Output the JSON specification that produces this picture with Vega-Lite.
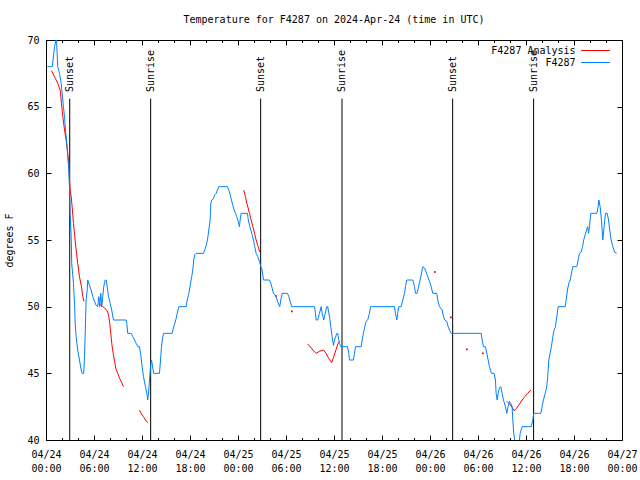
{
  "$schema": "https://vega.github.io/schema/vega-lite/v6.json",
  "width": 576,
  "height": 400,
  "autosize": {"type": "none"},
  "padding": {"left": 46, "top": 40, "right": 18, "bottom": 40},
  "background": "white",
  "title": {"text": "Temperature for F4287 on 2024-Apr-24 (time in UTC)", "font": "DejaVu Sans Mono", "fontSize": 10, "fontWeight": "normal", "color": "black", "offset": 10, "anchor": "middle"},
  "config": {
    "view": {"stroke": "black", "strokeWidth": 1},
    "font": "DejaVu Sans Mono",
    "axis": {"domain": false, "grid": false, "tickColor": "black", "tickWidth": 1, "labelColor": "black", "labelFont": "DejaVu Sans Mono", "labelFontSize": 10, "titleFont": "DejaVu Sans Mono", "titleFontSize": 10, "titleFontWeight": "normal", "titleColor": "black"}
  },
  "datasets": {
    "obs": [
      {"t": "2024-04-24T00:41Z", "v": 67.7, "s": "F4287 Analysis", "g": "r1"},
      {"t": "2024-04-24T01:11Z", "v": 67.1, "s": "F4287 Analysis", "g": "r1"},
      {"t": "2024-04-24T01:28Z", "v": 66.75, "s": "F4287 Analysis", "g": "r1"},
      {"t": "2024-04-24T01:46Z", "v": 66.25, "s": "F4287 Analysis", "g": "r1"},
      {"t": "2024-04-24T01:56Z", "v": 65.25, "s": "F4287 Analysis", "g": "r1"},
      {"t": "2024-04-24T02:06Z", "v": 64.25, "s": "F4287 Analysis", "g": "r1"},
      {"t": "2024-04-24T02:19Z", "v": 63.25, "s": "F4287 Analysis", "g": "r1"},
      {"t": "2024-04-24T02:31Z", "v": 62.5, "s": "F4287 Analysis", "g": "r1"},
      {"t": "2024-04-24T02:43Z", "v": 61.5, "s": "F4287 Analysis", "g": "r1"},
      {"t": "2024-04-24T02:51Z", "v": 60.75, "s": "F4287 Analysis", "g": "r1"},
      {"t": "2024-04-24T02:56Z", "v": 59.5, "s": "F4287 Analysis", "g": "r1"},
      {"t": "2024-04-24T03:01Z", "v": 58.75, "s": "F4287 Analysis", "g": "r1"},
      {"t": "2024-04-24T03:09Z", "v": 58.25, "s": "F4287 Analysis", "g": "r1"},
      {"t": "2024-04-24T03:16Z", "v": 57.5, "s": "F4287 Analysis", "g": "r1"},
      {"t": "2024-04-24T03:26Z", "v": 56.25, "s": "F4287 Analysis", "g": "r1"},
      {"t": "2024-04-24T03:36Z", "v": 55.25, "s": "F4287 Analysis", "g": "r1"},
      {"t": "2024-04-24T03:46Z", "v": 54.25, "s": "F4287 Analysis", "g": "r1"},
      {"t": "2024-04-24T03:58Z", "v": 53.25, "s": "F4287 Analysis", "g": "r1"},
      {"t": "2024-04-24T04:11Z", "v": 52.25, "s": "F4287 Analysis", "g": "r1"},
      {"t": "2024-04-24T04:26Z", "v": 51.5, "s": "F4287 Analysis", "g": "r1"},
      {"t": "2024-04-24T04:36Z", "v": 50.75, "s": "F4287 Analysis", "g": "r1"},
      {"t": "2024-04-24T04:45Z", "v": 50.4, "s": "F4287 Analysis", "g": "r1"},
      {"t": "2024-04-24T06:41Z", "v": 50.2, "s": "F4287 Analysis", "g": "r2"},
      {"t": "2024-04-24T07:06Z", "v": 50, "s": "F4287 Analysis", "g": "r2"},
      {"t": "2024-04-24T07:31Z", "v": 49.8, "s": "F4287 Analysis", "g": "r2"},
      {"t": "2024-04-24T07:43Z", "v": 49.6, "s": "F4287 Analysis", "g": "r2"},
      {"t": "2024-04-24T07:51Z", "v": 49.25, "s": "F4287 Analysis", "g": "r2"},
      {"t": "2024-04-24T07:58Z", "v": 48.75, "s": "F4287 Analysis", "g": "r2"},
      {"t": "2024-04-24T08:06Z", "v": 48, "s": "F4287 Analysis", "g": "r2"},
      {"t": "2024-04-24T08:13Z", "v": 47.25, "s": "F4287 Analysis", "g": "r2"},
      {"t": "2024-04-24T08:24Z", "v": 46.5, "s": "F4287 Analysis", "g": "r2"},
      {"t": "2024-04-24T08:34Z", "v": 45.9, "s": "F4287 Analysis", "g": "r2"},
      {"t": "2024-04-24T08:43Z", "v": 45.4, "s": "F4287 Analysis", "g": "r2"},
      {"t": "2024-04-24T08:58Z", "v": 45, "s": "F4287 Analysis", "g": "r2"},
      {"t": "2024-04-24T09:13Z", "v": 44.6, "s": "F4287 Analysis", "g": "r2"},
      {"t": "2024-04-24T09:28Z", "v": 44.3, "s": "F4287 Analysis", "g": "r2"},
      {"t": "2024-04-24T09:41Z", "v": 44, "s": "F4287 Analysis", "g": "r2"},
      {"t": "2024-04-24T11:41Z", "v": 42.25, "s": "F4287 Analysis", "g": "r3"},
      {"t": "2024-04-24T11:56Z", "v": 41.95, "s": "F4287 Analysis", "g": "r3"},
      {"t": "2024-04-24T12:11Z", "v": 41.75, "s": "F4287 Analysis", "g": "r3"},
      {"t": "2024-04-24T12:26Z", "v": 41.5, "s": "F4287 Analysis", "g": "r3"},
      {"t": "2024-04-24T12:43Z", "v": 41.3, "s": "F4287 Analysis", "g": "r3"},
      {"t": "2024-04-25T00:43Z", "v": 58.75, "s": "F4287 Analysis", "g": "r4"},
      {"t": "2024-04-25T00:56Z", "v": 58.25, "s": "F4287 Analysis", "g": "r4"},
      {"t": "2024-04-25T01:06Z", "v": 57.75, "s": "F4287 Analysis", "g": "r4"},
      {"t": "2024-04-25T01:16Z", "v": 57.4, "s": "F4287 Analysis", "g": "r4"},
      {"t": "2024-04-25T01:26Z", "v": 57, "s": "F4287 Analysis", "g": "r4"},
      {"t": "2024-04-25T01:39Z", "v": 56.5, "s": "F4287 Analysis", "g": "r4"},
      {"t": "2024-04-25T01:51Z", "v": 56, "s": "F4287 Analysis", "g": "r4"},
      {"t": "2024-04-25T02:04Z", "v": 55.5, "s": "F4287 Analysis", "g": "r4"},
      {"t": "2024-04-25T02:16Z", "v": 55, "s": "F4287 Analysis", "g": "r4"},
      {"t": "2024-04-25T02:28Z", "v": 54.6, "s": "F4287 Analysis", "g": "r4"},
      {"t": "2024-04-25T02:43Z", "v": 54.1, "s": "F4287 Analysis", "g": "r4"},
      {"t": "2024-04-25T08:43Z", "v": 47.2, "s": "F4287 Analysis", "g": "r5"},
      {"t": "2024-04-25T09:09Z", "v": 46.9, "s": "F4287 Analysis", "g": "r5"},
      {"t": "2024-04-25T09:34Z", "v": 46.6, "s": "F4287 Analysis", "g": "r5"},
      {"t": "2024-04-25T09:46Z", "v": 46.5, "s": "F4287 Analysis", "g": "r5"},
      {"t": "2024-04-25T10:11Z", "v": 46.65, "s": "F4287 Analysis", "g": "r5"},
      {"t": "2024-04-25T10:41Z", "v": 46.75, "s": "F4287 Analysis", "g": "r5"},
      {"t": "2024-04-25T11:01Z", "v": 46.5, "s": "F4287 Analysis", "g": "r5"},
      {"t": "2024-04-25T11:21Z", "v": 46.1, "s": "F4287 Analysis", "g": "r5"},
      {"t": "2024-04-25T11:43Z", "v": 45.8, "s": "F4287 Analysis", "g": "r5"},
      {"t": "2024-04-25T11:58Z", "v": 46.25, "s": "F4287 Analysis", "g": "r5"},
      {"t": "2024-04-25T12:16Z", "v": 46.8, "s": "F4287 Analysis", "g": "r5"},
      {"t": "2024-04-25T12:28Z", "v": 47.2, "s": "F4287 Analysis", "g": "r5"},
      {"t": "2024-04-25T12:41Z", "v": 47.4, "s": "F4287 Analysis", "g": "r5"},
      {"t": "2024-04-26T09:36Z", "v": 42.9, "s": "F4287 Analysis", "g": "r6"},
      {"t": "2024-04-26T09:56Z", "v": 42.7, "s": "F4287 Analysis", "g": "r6"},
      {"t": "2024-04-26T10:16Z", "v": 42.45, "s": "F4287 Analysis", "g": "r6"},
      {"t": "2024-04-26T10:31Z", "v": 42.2, "s": "F4287 Analysis", "g": "r6"},
      {"t": "2024-04-26T10:51Z", "v": 42.4, "s": "F4287 Analysis", "g": "r6"},
      {"t": "2024-04-26T11:11Z", "v": 42.7, "s": "F4287 Analysis", "g": "r6"},
      {"t": "2024-04-26T11:31Z", "v": 43, "s": "F4287 Analysis", "g": "r6"},
      {"t": "2024-04-26T11:51Z", "v": 43.25, "s": "F4287 Analysis", "g": "r6"},
      {"t": "2024-04-26T12:13Z", "v": 43.5, "s": "F4287 Analysis", "g": "r6"},
      {"t": "2024-04-26T12:36Z", "v": 43.75, "s": "F4287 Analysis", "g": "r6"},
      {"t": "2024-04-24T00:10Z", "v": 68, "s": "F4287", "g": "b"},
      {"t": "2024-04-24T00:47Z", "v": 68, "s": "F4287", "g": "b"},
      {"t": "2024-04-24T01:04Z", "v": 69.5, "s": "F4287", "g": "b"},
      {"t": "2024-04-24T01:15Z", "v": 70, "s": "F4287", "g": "b"},
      {"t": "2024-04-24T01:19Z", "v": 70, "s": "F4287", "g": "b"},
      {"t": "2024-04-24T01:28Z", "v": 68, "s": "F4287", "g": "b"},
      {"t": "2024-04-24T01:41Z", "v": 67.5, "s": "F4287", "g": "b"},
      {"t": "2024-04-24T01:54Z", "v": 66.75, "s": "F4287", "g": "b"},
      {"t": "2024-04-24T02:01Z", "v": 66, "s": "F4287", "g": "b"},
      {"t": "2024-04-24T02:11Z", "v": 65, "s": "F4287", "g": "b"},
      {"t": "2024-04-24T02:19Z", "v": 64.25, "s": "F4287", "g": "b"},
      {"t": "2024-04-24T02:26Z", "v": 63.25, "s": "F4287", "g": "b"},
      {"t": "2024-04-24T02:36Z", "v": 62.25, "s": "F4287", "g": "b"},
      {"t": "2024-04-24T02:43Z", "v": 61.25, "s": "F4287", "g": "b"},
      {"t": "2024-04-24T02:51Z", "v": 60.25, "s": "F4287", "g": "b"},
      {"t": "2024-04-24T02:56Z", "v": 59, "s": "F4287", "g": "b"},
      {"t": "2024-04-24T03:01Z", "v": 57, "s": "F4287", "g": "b"},
      {"t": "2024-04-24T03:09Z", "v": 55.25, "s": "F4287", "g": "b"},
      {"t": "2024-04-24T03:13Z", "v": 53.25, "s": "F4287", "g": "b"},
      {"t": "2024-04-24T03:26Z", "v": 51.75, "s": "F4287", "g": "b"},
      {"t": "2024-04-24T03:34Z", "v": 50.25, "s": "F4287", "g": "b"},
      {"t": "2024-04-24T03:39Z", "v": 48.75, "s": "F4287", "g": "b"},
      {"t": "2024-04-24T03:46Z", "v": 47.75, "s": "F4287", "g": "b"},
      {"t": "2024-04-24T03:58Z", "v": 46.75, "s": "F4287", "g": "b"},
      {"t": "2024-04-24T04:11Z", "v": 46, "s": "F4287", "g": "b"},
      {"t": "2024-04-24T04:24Z", "v": 45.25, "s": "F4287", "g": "b"},
      {"t": "2024-04-24T04:31Z", "v": 45, "s": "F4287", "g": "b"},
      {"t": "2024-04-24T04:43Z", "v": 45, "s": "F4287", "g": "b"},
      {"t": "2024-04-24T04:49Z", "v": 46.25, "s": "F4287", "g": "b"},
      {"t": "2024-04-24T04:56Z", "v": 48.75, "s": "F4287", "g": "b"},
      {"t": "2024-04-24T05:01Z", "v": 50.5, "s": "F4287", "g": "b"},
      {"t": "2024-04-24T05:09Z", "v": 51.25, "s": "F4287", "g": "b"},
      {"t": "2024-04-24T05:13Z", "v": 52, "s": "F4287", "g": "b"},
      {"t": "2024-04-24T05:26Z", "v": 51.6, "s": "F4287", "g": "b"},
      {"t": "2024-04-24T05:39Z", "v": 51.25, "s": "F4287", "g": "b"},
      {"t": "2024-04-24T05:51Z", "v": 50.75, "s": "F4287", "g": "b"},
      {"t": "2024-04-24T06:04Z", "v": 50.4, "s": "F4287", "g": "b"},
      {"t": "2024-04-24T06:16Z", "v": 50.1, "s": "F4287", "g": "b"},
      {"t": "2024-04-24T06:28Z", "v": 50, "s": "F4287", "g": "b"},
      {"t": "2024-04-24T06:36Z", "v": 50.75, "s": "F4287", "g": "b"},
      {"t": "2024-04-24T06:43Z", "v": 50, "s": "F4287", "g": "b"},
      {"t": "2024-04-24T06:51Z", "v": 51, "s": "F4287", "g": "b"},
      {"t": "2024-04-24T06:58Z", "v": 50, "s": "F4287", "g": "b"},
      {"t": "2024-04-24T07:06Z", "v": 50.75, "s": "F4287", "g": "b"},
      {"t": "2024-04-24T07:13Z", "v": 51.5, "s": "F4287", "g": "b"},
      {"t": "2024-04-24T07:24Z", "v": 52, "s": "F4287", "g": "b"},
      {"t": "2024-04-24T07:31Z", "v": 52, "s": "F4287", "g": "b"},
      {"t": "2024-04-24T07:39Z", "v": 51.5, "s": "F4287", "g": "b"},
      {"t": "2024-04-24T07:49Z", "v": 50.75, "s": "F4287", "g": "b"},
      {"t": "2024-04-24T08:01Z", "v": 50.25, "s": "F4287", "g": "b"},
      {"t": "2024-04-24T08:13Z", "v": 49.75, "s": "F4287", "g": "b"},
      {"t": "2024-04-24T08:26Z", "v": 49, "s": "F4287", "g": "b"},
      {"t": "2024-04-24T10:01Z", "v": 49, "s": "F4287", "g": "b"},
      {"t": "2024-04-24T10:06Z", "v": 48.75, "s": "F4287", "g": "b"},
      {"t": "2024-04-24T10:13Z", "v": 48, "s": "F4287", "g": "b"},
      {"t": "2024-04-24T10:39Z", "v": 48, "s": "F4287", "g": "b"},
      {"t": "2024-04-24T10:51Z", "v": 47.75, "s": "F4287", "g": "b"},
      {"t": "2024-04-24T11:04Z", "v": 47.5, "s": "F4287", "g": "b"},
      {"t": "2024-04-24T11:16Z", "v": 47.25, "s": "F4287", "g": "b"},
      {"t": "2024-04-24T11:28Z", "v": 47, "s": "F4287", "g": "b"},
      {"t": "2024-04-24T11:41Z", "v": 47, "s": "F4287", "g": "b"},
      {"t": "2024-04-24T11:49Z", "v": 46.5, "s": "F4287", "g": "b"},
      {"t": "2024-04-24T11:58Z", "v": 45.75, "s": "F4287", "g": "b"},
      {"t": "2024-04-24T12:11Z", "v": 44.75, "s": "F4287", "g": "b"},
      {"t": "2024-04-24T12:26Z", "v": 44, "s": "F4287", "g": "b"},
      {"t": "2024-04-24T12:36Z", "v": 43.5, "s": "F4287", "g": "b"},
      {"t": "2024-04-24T12:43Z", "v": 43, "s": "F4287", "g": "b"},
      {"t": "2024-04-24T12:51Z", "v": 43.75, "s": "F4287", "g": "b"},
      {"t": "2024-04-24T12:56Z", "v": 44.5, "s": "F4287", "g": "b"},
      {"t": "2024-04-24T13:04Z", "v": 45.5, "s": "F4287", "g": "b"},
      {"t": "2024-04-24T13:11Z", "v": 46, "s": "F4287", "g": "b"},
      {"t": "2024-04-24T13:16Z", "v": 45.75, "s": "F4287", "g": "b"},
      {"t": "2024-04-24T13:21Z", "v": 45.4, "s": "F4287", "g": "b"},
      {"t": "2024-04-24T13:28Z", "v": 45, "s": "F4287", "g": "b"},
      {"t": "2024-04-24T14:11Z", "v": 45, "s": "F4287", "g": "b"},
      {"t": "2024-04-24T14:19Z", "v": 46, "s": "F4287", "g": "b"},
      {"t": "2024-04-24T14:26Z", "v": 47, "s": "F4287", "g": "b"},
      {"t": "2024-04-24T14:36Z", "v": 47.75, "s": "F4287", "g": "b"},
      {"t": "2024-04-24T14:43Z", "v": 48, "s": "F4287", "g": "b"},
      {"t": "2024-04-24T15:46Z", "v": 48, "s": "F4287", "g": "b"},
      {"t": "2024-04-24T15:56Z", "v": 48.4, "s": "F4287", "g": "b"},
      {"t": "2024-04-24T16:06Z", "v": 48.75, "s": "F4287", "g": "b"},
      {"t": "2024-04-24T16:16Z", "v": 49.1, "s": "F4287", "g": "b"},
      {"t": "2024-04-24T16:24Z", "v": 49.5, "s": "F4287", "g": "b"},
      {"t": "2024-04-24T16:36Z", "v": 50, "s": "F4287", "g": "b"},
      {"t": "2024-04-24T17:31Z", "v": 50, "s": "F4287", "g": "b"},
      {"t": "2024-04-24T17:39Z", "v": 50.5, "s": "F4287", "g": "b"},
      {"t": "2024-04-24T17:49Z", "v": 50.9, "s": "F4287", "g": "b"},
      {"t": "2024-04-24T17:56Z", "v": 51.25, "s": "F4287", "g": "b"},
      {"t": "2024-04-24T18:04Z", "v": 51.75, "s": "F4287", "g": "b"},
      {"t": "2024-04-24T18:13Z", "v": 52.25, "s": "F4287", "g": "b"},
      {"t": "2024-04-24T18:21Z", "v": 52.75, "s": "F4287", "g": "b"},
      {"t": "2024-04-24T18:28Z", "v": 53.5, "s": "F4287", "g": "b"},
      {"t": "2024-04-24T18:36Z", "v": 53.9, "s": "F4287", "g": "b"},
      {"t": "2024-04-24T18:46Z", "v": 54, "s": "F4287", "g": "b"},
      {"t": "2024-04-24T19:41Z", "v": 54, "s": "F4287", "g": "b"},
      {"t": "2024-04-24T19:51Z", "v": 54.25, "s": "F4287", "g": "b"},
      {"t": "2024-04-24T20:01Z", "v": 54.6, "s": "F4287", "g": "b"},
      {"t": "2024-04-24T20:11Z", "v": 55, "s": "F4287", "g": "b"},
      {"t": "2024-04-24T20:21Z", "v": 55.75, "s": "F4287", "g": "b"},
      {"t": "2024-04-24T20:31Z", "v": 56.5, "s": "F4287", "g": "b"},
      {"t": "2024-04-24T20:36Z", "v": 57.75, "s": "F4287", "g": "b"},
      {"t": "2024-04-24T20:43Z", "v": 58, "s": "F4287", "g": "b"},
      {"t": "2024-04-24T20:56Z", "v": 58.1, "s": "F4287", "g": "b"},
      {"t": "2024-04-24T21:06Z", "v": 58.4, "s": "F4287", "g": "b"},
      {"t": "2024-04-24T21:16Z", "v": 58.5, "s": "F4287", "g": "b"},
      {"t": "2024-04-24T21:26Z", "v": 58.75, "s": "F4287", "g": "b"},
      {"t": "2024-04-24T21:36Z", "v": 59, "s": "F4287", "g": "b"},
      {"t": "2024-04-24T22:41Z", "v": 59, "s": "F4287", "g": "b"},
      {"t": "2024-04-24T22:51Z", "v": 58.75, "s": "F4287", "g": "b"},
      {"t": "2024-04-24T23:01Z", "v": 58.4, "s": "F4287", "g": "b"},
      {"t": "2024-04-24T23:11Z", "v": 58, "s": "F4287", "g": "b"},
      {"t": "2024-04-24T23:21Z", "v": 57.6, "s": "F4287", "g": "b"},
      {"t": "2024-04-24T23:31Z", "v": 57.25, "s": "F4287", "g": "b"},
      {"t": "2024-04-24T23:41Z", "v": 57, "s": "F4287", "g": "b"},
      {"t": "2024-04-24T23:51Z", "v": 56.75, "s": "F4287", "g": "b"},
      {"t": "2024-04-25T00:01Z", "v": 56.4, "s": "F4287", "g": "b"},
      {"t": "2024-04-25T00:11Z", "v": 56, "s": "F4287", "g": "b"},
      {"t": "2024-04-25T00:16Z", "v": 56.5, "s": "F4287", "g": "b"},
      {"t": "2024-04-25T00:24Z", "v": 57, "s": "F4287", "g": "b"},
      {"t": "2024-04-25T01:11Z", "v": 57, "s": "F4287", "g": "b"},
      {"t": "2024-04-25T01:16Z", "v": 56.6, "s": "F4287", "g": "b"},
      {"t": "2024-04-25T01:26Z", "v": 56.1, "s": "F4287", "g": "b"},
      {"t": "2024-04-25T01:36Z", "v": 55.75, "s": "F4287", "g": "b"},
      {"t": "2024-04-25T01:46Z", "v": 55.4, "s": "F4287", "g": "b"},
      {"t": "2024-04-25T01:56Z", "v": 55, "s": "F4287", "g": "b"},
      {"t": "2024-04-25T02:06Z", "v": 54.5, "s": "F4287", "g": "b"},
      {"t": "2024-04-25T02:16Z", "v": 54, "s": "F4287", "g": "b"},
      {"t": "2024-04-25T02:28Z", "v": 53.75, "s": "F4287", "g": "b"},
      {"t": "2024-04-25T02:41Z", "v": 53.4, "s": "F4287", "g": "b"},
      {"t": "2024-04-25T02:51Z", "v": 53, "s": "F4287", "g": "b"},
      {"t": "2024-04-25T03:01Z", "v": 52.75, "s": "F4287", "g": "b"},
      {"t": "2024-04-25T03:11Z", "v": 52, "s": "F4287", "g": "b"},
      {"t": "2024-04-25T03:56Z", "v": 52, "s": "F4287", "g": "b"},
      {"t": "2024-04-25T04:06Z", "v": 51.75, "s": "F4287", "g": "b"},
      {"t": "2024-04-25T04:16Z", "v": 51.4, "s": "F4287", "g": "b"},
      {"t": "2024-04-25T04:26Z", "v": 51, "s": "F4287", "g": "b"},
      {"t": "2024-04-25T04:46Z", "v": 50.75, "s": "F4287", "g": "b"},
      {"t": "2024-04-25T04:56Z", "v": 50.4, "s": "F4287", "g": "b"},
      {"t": "2024-04-25T05:13Z", "v": 50, "s": "F4287", "g": "b"},
      {"t": "2024-04-25T05:21Z", "v": 50.5, "s": "F4287", "g": "b"},
      {"t": "2024-04-25T05:31Z", "v": 51, "s": "F4287", "g": "b"},
      {"t": "2024-04-25T06:11Z", "v": 51, "s": "F4287", "g": "b"},
      {"t": "2024-04-25T06:21Z", "v": 50.75, "s": "F4287", "g": "b"},
      {"t": "2024-04-25T06:31Z", "v": 50.4, "s": "F4287", "g": "b"},
      {"t": "2024-04-25T06:43Z", "v": 50, "s": "F4287", "g": "b"},
      {"t": "2024-04-25T09:34Z", "v": 50, "s": "F4287", "g": "b"},
      {"t": "2024-04-25T09:41Z", "v": 49.5, "s": "F4287", "g": "b"},
      {"t": "2024-04-25T09:46Z", "v": 49, "s": "F4287", "g": "b"},
      {"t": "2024-04-25T09:58Z", "v": 49, "s": "F4287", "g": "b"},
      {"t": "2024-04-25T10:11Z", "v": 49.5, "s": "F4287", "g": "b"},
      {"t": "2024-04-25T10:24Z", "v": 50, "s": "F4287", "g": "b"},
      {"t": "2024-04-25T10:31Z", "v": 49.5, "s": "F4287", "g": "b"},
      {"t": "2024-04-25T10:43Z", "v": 49, "s": "F4287", "g": "b"},
      {"t": "2024-04-25T10:54Z", "v": 49.5, "s": "F4287", "g": "b"},
      {"t": "2024-04-25T11:06Z", "v": 50, "s": "F4287", "g": "b"},
      {"t": "2024-04-25T11:13Z", "v": 50, "s": "F4287", "g": "b"},
      {"t": "2024-04-25T11:26Z", "v": 49.25, "s": "F4287", "g": "b"},
      {"t": "2024-04-25T11:36Z", "v": 48.5, "s": "F4287", "g": "b"},
      {"t": "2024-04-25T11:46Z", "v": 47.75, "s": "F4287", "g": "b"},
      {"t": "2024-04-25T11:56Z", "v": 47.1, "s": "F4287", "g": "b"},
      {"t": "2024-04-25T12:04Z", "v": 47.5, "s": "F4287", "g": "b"},
      {"t": "2024-04-25T12:13Z", "v": 47.75, "s": "F4287", "g": "b"},
      {"t": "2024-04-25T12:21Z", "v": 48, "s": "F4287", "g": "b"},
      {"t": "2024-04-25T12:28Z", "v": 48, "s": "F4287", "g": "b"},
      {"t": "2024-04-25T12:36Z", "v": 47.5, "s": "F4287", "g": "b"},
      {"t": "2024-04-25T12:41Z", "v": 47.25, "s": "F4287", "g": "b"},
      {"t": "2024-04-25T12:51Z", "v": 47, "s": "F4287", "g": "b"},
      {"t": "2024-04-25T13:41Z", "v": 47, "s": "F4287", "g": "b"},
      {"t": "2024-04-25T13:51Z", "v": 46.5, "s": "F4287", "g": "b"},
      {"t": "2024-04-25T13:56Z", "v": 46, "s": "F4287", "g": "b"},
      {"t": "2024-04-25T14:26Z", "v": 46, "s": "F4287", "g": "b"},
      {"t": "2024-04-25T14:34Z", "v": 46.5, "s": "F4287", "g": "b"},
      {"t": "2024-04-25T14:41Z", "v": 47, "s": "F4287", "g": "b"},
      {"t": "2024-04-25T15:24Z", "v": 47, "s": "F4287", "g": "b"},
      {"t": "2024-04-25T15:31Z", "v": 47.5, "s": "F4287", "g": "b"},
      {"t": "2024-04-25T15:41Z", "v": 48, "s": "F4287", "g": "b"},
      {"t": "2024-04-25T15:51Z", "v": 48.5, "s": "F4287", "g": "b"},
      {"t": "2024-04-25T16:01Z", "v": 48.9, "s": "F4287", "g": "b"},
      {"t": "2024-04-25T16:13Z", "v": 49, "s": "F4287", "g": "b"},
      {"t": "2024-04-25T16:26Z", "v": 49.5, "s": "F4287", "g": "b"},
      {"t": "2024-04-25T16:34Z", "v": 50, "s": "F4287", "g": "b"},
      {"t": "2024-04-25T19:34Z", "v": 50, "s": "F4287", "g": "b"},
      {"t": "2024-04-25T19:41Z", "v": 49.5, "s": "F4287", "g": "b"},
      {"t": "2024-04-25T19:51Z", "v": 49, "s": "F4287", "g": "b"},
      {"t": "2024-04-25T19:58Z", "v": 49.5, "s": "F4287", "g": "b"},
      {"t": "2024-04-25T20:06Z", "v": 50, "s": "F4287", "g": "b"},
      {"t": "2024-04-25T20:24Z", "v": 50, "s": "F4287", "g": "b"},
      {"t": "2024-04-25T20:36Z", "v": 50.5, "s": "F4287", "g": "b"},
      {"t": "2024-04-25T20:49Z", "v": 51, "s": "F4287", "g": "b"},
      {"t": "2024-04-25T20:56Z", "v": 51.5, "s": "F4287", "g": "b"},
      {"t": "2024-04-25T21:06Z", "v": 52, "s": "F4287", "g": "b"},
      {"t": "2024-04-25T21:51Z", "v": 52, "s": "F4287", "g": "b"},
      {"t": "2024-04-25T22:04Z", "v": 51.5, "s": "F4287", "g": "b"},
      {"t": "2024-04-25T22:11Z", "v": 51, "s": "F4287", "g": "b"},
      {"t": "2024-04-25T22:24Z", "v": 51, "s": "F4287", "g": "b"},
      {"t": "2024-04-25T22:34Z", "v": 51.5, "s": "F4287", "g": "b"},
      {"t": "2024-04-25T22:46Z", "v": 52, "s": "F4287", "g": "b"},
      {"t": "2024-04-25T22:58Z", "v": 52.6, "s": "F4287", "g": "b"},
      {"t": "2024-04-25T23:06Z", "v": 53, "s": "F4287", "g": "b"},
      {"t": "2024-04-25T23:19Z", "v": 52.9, "s": "F4287", "g": "b"},
      {"t": "2024-04-25T23:31Z", "v": 52.6, "s": "F4287", "g": "b"},
      {"t": "2024-04-25T23:43Z", "v": 52.25, "s": "F4287", "g": "b"},
      {"t": "2024-04-25T23:56Z", "v": 51.9, "s": "F4287", "g": "b"},
      {"t": "2024-04-26T00:09Z", "v": 51.5, "s": "F4287", "g": "b"},
      {"t": "2024-04-26T00:21Z", "v": 51, "s": "F4287", "g": "b"},
      {"t": "2024-04-26T00:51Z", "v": 51, "s": "F4287", "g": "b"},
      {"t": "2024-04-26T00:58Z", "v": 50.5, "s": "F4287", "g": "b"},
      {"t": "2024-04-26T01:11Z", "v": 50, "s": "F4287", "g": "b"},
      {"t": "2024-04-26T01:31Z", "v": 49.75, "s": "F4287", "g": "b"},
      {"t": "2024-04-26T01:41Z", "v": 49.25, "s": "F4287", "g": "b"},
      {"t": "2024-04-26T01:51Z", "v": 49, "s": "F4287", "g": "b"},
      {"t": "2024-04-26T02:06Z", "v": 48.9, "s": "F4287", "g": "b"},
      {"t": "2024-04-26T02:16Z", "v": 48.5, "s": "F4287", "g": "b"},
      {"t": "2024-04-26T02:26Z", "v": 48.25, "s": "F4287", "g": "b"},
      {"t": "2024-04-26T02:39Z", "v": 48, "s": "F4287", "g": "b"},
      {"t": "2024-04-26T06:24Z", "v": 48, "s": "F4287", "g": "b"},
      {"t": "2024-04-26T06:31Z", "v": 47.5, "s": "F4287", "g": "b"},
      {"t": "2024-04-26T06:41Z", "v": 47, "s": "F4287", "g": "b"},
      {"t": "2024-04-26T06:56Z", "v": 47, "s": "F4287", "g": "b"},
      {"t": "2024-04-26T07:06Z", "v": 46.5, "s": "F4287", "g": "b"},
      {"t": "2024-04-26T07:16Z", "v": 46, "s": "F4287", "g": "b"},
      {"t": "2024-04-26T07:26Z", "v": 45.5, "s": "F4287", "g": "b"},
      {"t": "2024-04-26T07:41Z", "v": 45, "s": "F4287", "g": "b"},
      {"t": "2024-04-26T08:01Z", "v": 45, "s": "F4287", "g": "b"},
      {"t": "2024-04-26T08:11Z", "v": 44.5, "s": "F4287", "g": "b"},
      {"t": "2024-04-26T08:16Z", "v": 43.5, "s": "F4287", "g": "b"},
      {"t": "2024-04-26T08:24Z", "v": 43, "s": "F4287", "g": "b"},
      {"t": "2024-04-26T08:31Z", "v": 43.5, "s": "F4287", "g": "b"},
      {"t": "2024-04-26T08:41Z", "v": 43.9, "s": "F4287", "g": "b"},
      {"t": "2024-04-26T08:51Z", "v": 44, "s": "F4287", "g": "b"},
      {"t": "2024-04-26T09:01Z", "v": 43.5, "s": "F4287", "g": "b"},
      {"t": "2024-04-26T09:11Z", "v": 43, "s": "F4287", "g": "b"},
      {"t": "2024-04-26T09:26Z", "v": 42.5, "s": "F4287", "g": "b"},
      {"t": "2024-04-26T09:36Z", "v": 42, "s": "F4287", "g": "b"},
      {"t": "2024-04-26T09:46Z", "v": 42.5, "s": "F4287", "g": "b"},
      {"t": "2024-04-26T09:56Z", "v": 42.9, "s": "F4287", "g": "b"},
      {"t": "2024-04-26T10:06Z", "v": 42.75, "s": "F4287", "g": "b"},
      {"t": "2024-04-26T10:16Z", "v": 42.5, "s": "F4287", "g": "b"},
      {"t": "2024-04-26T10:21Z", "v": 41.5, "s": "F4287", "g": "b"},
      {"t": "2024-04-26T10:28Z", "v": 40.5, "s": "F4287", "g": "b"},
      {"t": "2024-04-26T10:36Z", "v": 40, "s": "F4287", "g": "b"},
      {"t": "2024-04-26T10:45Z", "v": 39, "s": "F4287", "g": "b"},
      {"t": "2024-04-26T11:06Z", "v": 39.5, "s": "F4287", "g": "b"},
      {"t": "2024-04-26T11:16Z", "v": 40.5, "s": "F4287", "g": "b"},
      {"t": "2024-04-26T11:31Z", "v": 41, "s": "F4287", "g": "b"},
      {"t": "2024-04-26T12:39Z", "v": 41, "s": "F4287", "g": "b"},
      {"t": "2024-04-26T12:51Z", "v": 41.5, "s": "F4287", "g": "b"},
      {"t": "2024-04-26T12:58Z", "v": 42, "s": "F4287", "g": "b"},
      {"t": "2024-04-26T13:51Z", "v": 42, "s": "F4287", "g": "b"},
      {"t": "2024-04-26T14:01Z", "v": 42.5, "s": "F4287", "g": "b"},
      {"t": "2024-04-26T14:11Z", "v": 43, "s": "F4287", "g": "b"},
      {"t": "2024-04-26T14:24Z", "v": 43.5, "s": "F4287", "g": "b"},
      {"t": "2024-04-26T14:34Z", "v": 43.9, "s": "F4287", "g": "b"},
      {"t": "2024-04-26T14:43Z", "v": 44.75, "s": "F4287", "g": "b"},
      {"t": "2024-04-26T14:51Z", "v": 46, "s": "F4287", "g": "b"},
      {"t": "2024-04-26T15:01Z", "v": 46.5, "s": "F4287", "g": "b"},
      {"t": "2024-04-26T15:11Z", "v": 47, "s": "F4287", "g": "b"},
      {"t": "2024-04-26T15:21Z", "v": 47.75, "s": "F4287", "g": "b"},
      {"t": "2024-04-26T15:31Z", "v": 48.25, "s": "F4287", "g": "b"},
      {"t": "2024-04-26T15:41Z", "v": 48.5, "s": "F4287", "g": "b"},
      {"t": "2024-04-26T15:51Z", "v": 49.25, "s": "F4287", "g": "b"},
      {"t": "2024-04-26T16:01Z", "v": 50, "s": "F4287", "g": "b"},
      {"t": "2024-04-26T16:54Z", "v": 50, "s": "F4287", "g": "b"},
      {"t": "2024-04-26T17:01Z", "v": 50.5, "s": "F4287", "g": "b"},
      {"t": "2024-04-26T17:11Z", "v": 51.25, "s": "F4287", "g": "b"},
      {"t": "2024-04-26T17:21Z", "v": 51.75, "s": "F4287", "g": "b"},
      {"t": "2024-04-26T17:31Z", "v": 52, "s": "F4287", "g": "b"},
      {"t": "2024-04-26T17:41Z", "v": 52.5, "s": "F4287", "g": "b"},
      {"t": "2024-04-26T17:51Z", "v": 53, "s": "F4287", "g": "b"},
      {"t": "2024-04-26T18:21Z", "v": 53, "s": "F4287", "g": "b"},
      {"t": "2024-04-26T18:31Z", "v": 53.5, "s": "F4287", "g": "b"},
      {"t": "2024-04-26T18:41Z", "v": 54, "s": "F4287", "g": "b"},
      {"t": "2024-04-26T18:54Z", "v": 54.1, "s": "F4287", "g": "b"},
      {"t": "2024-04-26T19:04Z", "v": 54.5, "s": "F4287", "g": "b"},
      {"t": "2024-04-26T19:13Z", "v": 55, "s": "F4287", "g": "b"},
      {"t": "2024-04-26T19:24Z", "v": 55.4, "s": "F4287", "g": "b"},
      {"t": "2024-04-26T19:34Z", "v": 55.75, "s": "F4287", "g": "b"},
      {"t": "2024-04-26T19:43Z", "v": 56, "s": "F4287", "g": "b"},
      {"t": "2024-04-26T19:49Z", "v": 55.5, "s": "F4287", "g": "b"},
      {"t": "2024-04-26T19:56Z", "v": 56, "s": "F4287", "g": "b"},
      {"t": "2024-04-26T20:06Z", "v": 57, "s": "F4287", "g": "b"},
      {"t": "2024-04-26T20:51Z", "v": 57, "s": "F4287", "g": "b"},
      {"t": "2024-04-26T21:01Z", "v": 57.5, "s": "F4287", "g": "b"},
      {"t": "2024-04-26T21:06Z", "v": 58, "s": "F4287", "g": "b"},
      {"t": "2024-04-26T21:16Z", "v": 57.5, "s": "F4287", "g": "b"},
      {"t": "2024-04-26T21:26Z", "v": 56.5, "s": "F4287", "g": "b"},
      {"t": "2024-04-26T21:36Z", "v": 55, "s": "F4287", "g": "b"},
      {"t": "2024-04-26T21:46Z", "v": 56, "s": "F4287", "g": "b"},
      {"t": "2024-04-26T21:56Z", "v": 57, "s": "F4287", "g": "b"},
      {"t": "2024-04-26T22:09Z", "v": 57, "s": "F4287", "g": "b"},
      {"t": "2024-04-26T22:19Z", "v": 56.5, "s": "F4287", "g": "b"},
      {"t": "2024-04-26T22:28Z", "v": 55.75, "s": "F4287", "g": "b"},
      {"t": "2024-04-26T22:39Z", "v": 55, "s": "F4287", "g": "b"},
      {"t": "2024-04-26T22:51Z", "v": 54.5, "s": "F4287", "g": "b"},
      {"t": "2024-04-26T23:04Z", "v": 54.1, "s": "F4287", "g": "b"},
      {"t": "2024-04-26T23:21Z", "v": 54, "s": "F4287", "g": "b"}
    ],
    "dots": [
      {"t": "2024-04-25T04:45Z", "v": 50.8},
      {"t": "2024-04-25T06:44Z", "v": 49.65},
      {"t": "2024-04-26T00:36Z", "v": 52.6},
      {"t": "2024-04-26T02:36Z", "v": 49.2},
      {"t": "2024-04-26T04:36Z", "v": 46.8},
      {"t": "2024-04-26T06:36Z", "v": 46.5}
    ],
    "sun": [
      {"t": "2024-04-24T02:58Z", "label": "Sunset"},
      {"t": "2024-04-24T13:05Z", "label": "Sunrise"},
      {"t": "2024-04-25T02:50Z", "label": "Sunset"},
      {"t": "2024-04-25T13:00Z", "label": "Sunrise"},
      {"t": "2024-04-26T02:50Z", "label": "Sunset"},
      {"t": "2024-04-26T12:57Z", "label": "Sunrise"}
    ]
  },
  "layer": [
    {
      "data": {"name": "sun"},
      "mark": {"type": "rule", "color": "black", "strokeWidth": 1},
      "encoding": {
        "x": {"field": "t", "type": "temporal",
              "scale": {"domain": [{"year": 2024, "month": 4, "date": 24, "utc": true}, {"year": 2024, "month": 4, "date": 27, "utc": true}], "nice": false},
              "axis": {"orient": "top", "title": null, "labels": false, "tickSize": -5,
                       "values": [
                         {"year": 2024, "month": 4, "date": 24, "hours": 0, "utc": true},
                         {"year": 2024, "month": 4, "date": 24, "hours": 6, "utc": true},
                         {"year": 2024, "month": 4, "date": 24, "hours": 12, "utc": true},
                         {"year": 2024, "month": 4, "date": 24, "hours": 18, "utc": true},
                         {"year": 2024, "month": 4, "date": 25, "hours": 0, "utc": true},
                         {"year": 2024, "month": 4, "date": 25, "hours": 6, "utc": true},
                         {"year": 2024, "month": 4, "date": 25, "hours": 12, "utc": true},
                         {"year": 2024, "month": 4, "date": 25, "hours": 18, "utc": true},
                         {"year": 2024, "month": 4, "date": 26, "hours": 0, "utc": true},
                         {"year": 2024, "month": 4, "date": 26, "hours": 6, "utc": true},
                         {"year": 2024, "month": 4, "date": 26, "hours": 12, "utc": true},
                         {"year": 2024, "month": 4, "date": 26, "hours": 18, "utc": true},
                         {"year": 2024, "month": 4, "date": 27, "hours": 0, "utc": true}
                       ]}},
        "y": {"datum": 65.6, "type": "quantitative",
              "scale": {"domain": [40, 70], "nice": false, "zero": false},
              "axis": {"orient": "right", "title": null, "labels": false, "values": [40, 45, 50, 55, 60, 65, 70], "tickSize": -5}},
        "y2": {"datum": 40}
      }
    },
    {
      "data": {"name": "sun"},
      "mark": {"type": "text", "angle": 270, "align": "left", "baseline": "middle", "font": "DejaVu Sans Mono", "fontSize": 10, "color": "black"},
      "encoding": {
        "x": {"field": "t", "type": "temporal",
              "axis": {"orient": "top", "title": null, "labels": false, "tickSize": -2.5,
                       "values": [
                         {"year": 2024, "month": 4, "date": 24, "hours": 2, "utc": true},
                         {"year": 2024, "month": 4, "date": 24, "hours": 4, "utc": true},
                         {"year": 2024, "month": 4, "date": 24, "hours": 8, "utc": true},
                         {"year": 2024, "month": 4, "date": 24, "hours": 10, "utc": true},
                         {"year": 2024, "month": 4, "date": 24, "hours": 14, "utc": true},
                         {"year": 2024, "month": 4, "date": 24, "hours": 16, "utc": true},
                         {"year": 2024, "month": 4, "date": 24, "hours": 20, "utc": true},
                         {"year": 2024, "month": 4, "date": 24, "hours": 22, "utc": true},
                         {"year": 2024, "month": 4, "date": 25, "hours": 2, "utc": true},
                         {"year": 2024, "month": 4, "date": 25, "hours": 4, "utc": true},
                         {"year": 2024, "month": 4, "date": 25, "hours": 8, "utc": true},
                         {"year": 2024, "month": 4, "date": 25, "hours": 10, "utc": true},
                         {"year": 2024, "month": 4, "date": 25, "hours": 14, "utc": true},
                         {"year": 2024, "month": 4, "date": 25, "hours": 16, "utc": true},
                         {"year": 2024, "month": 4, "date": 25, "hours": 20, "utc": true},
                         {"year": 2024, "month": 4, "date": 25, "hours": 22, "utc": true},
                         {"year": 2024, "month": 4, "date": 26, "hours": 2, "utc": true},
                         {"year": 2024, "month": 4, "date": 26, "hours": 4, "utc": true},
                         {"year": 2024, "month": 4, "date": 26, "hours": 8, "utc": true},
                         {"year": 2024, "month": 4, "date": 26, "hours": 10, "utc": true},
                         {"year": 2024, "month": 4, "date": 26, "hours": 14, "utc": true},
                         {"year": 2024, "month": 4, "date": 26, "hours": 16, "utc": true},
                         {"year": 2024, "month": 4, "date": 26, "hours": 20, "utc": true},
                         {"year": 2024, "month": 4, "date": 26, "hours": 22, "utc": true}
                       ]}},
        "y": {"datum": 66.1, "type": "quantitative", "axis": null},
        "text": {"field": "label"}
      }
    },
    {
      "data": {"name": "obs"},
      "mark": {"type": "line", "strokeWidth": 1, "clip": true},
      "encoding": {
        "x": {"field": "t", "type": "temporal",
              "axis": {"orient": "bottom", "title": null,
                       "values": [
                         {"year": 2024, "month": 4, "date": 24, "hours": 0, "utc": true},
                         {"year": 2024, "month": 4, "date": 24, "hours": 6, "utc": true},
                         {"year": 2024, "month": 4, "date": 24, "hours": 12, "utc": true},
                         {"year": 2024, "month": 4, "date": 24, "hours": 18, "utc": true},
                         {"year": 2024, "month": 4, "date": 25, "hours": 0, "utc": true},
                         {"year": 2024, "month": 4, "date": 25, "hours": 6, "utc": true},
                         {"year": 2024, "month": 4, "date": 25, "hours": 12, "utc": true},
                         {"year": 2024, "month": 4, "date": 25, "hours": 18, "utc": true},
                         {"year": 2024, "month": 4, "date": 26, "hours": 0, "utc": true},
                         {"year": 2024, "month": 4, "date": 26, "hours": 6, "utc": true},
                         {"year": 2024, "month": 4, "date": 26, "hours": 12, "utc": true},
                         {"year": 2024, "month": 4, "date": 26, "hours": 18, "utc": true},
                         {"year": 2024, "month": 4, "date": 27, "hours": 0, "utc": true}
                       ],
                       "labelExpr": "[utcFormat(datum.value, '%m/%d'), utcFormat(datum.value, '%H:%M')]",
                       "labelFlush": false, "labelOverlap": false, "labelBound": false, "labelLineHeight": 14, "labelPadding": 14, "tickSize": -5}},
        "y": {"field": "v", "type": "quantitative",
              "axis": {"orient": "left", "title": "degrees F", "values": [40, 45, 50, 55, 60, 65, 70], "tickSize": -5, "labelPadding": 12, "titlePadding": 12}},
        "color": {"field": "s", "type": "nominal",
                  "scale": {"domain": ["F4287 Analysis", "F4287"], "range": ["#ff0000", "#0080ff"]},
                  "legend": {"orient": "top-right", "title": null, "symbolType": "M-2.4,0H2.4M3.4,0", "symbolSize": 144, "symbolStrokeWidth": 1, "symbolFillColor": "transparent",
                             "labelAlign": "right", "labelOffset": -26.4, "labelFont": "DejaVu Sans Mono", "labelFontSize": 10, "labelColor": "black",
                             "rowPadding": 0, "offset": 4, "padding": 0}},
        "detail": {"field": "g"}
      }
    },
    {
      "data": {"name": "dots"},
      "mark": {"type": "square", "size": 3, "color": "#ff0000", "filled": true, "opacity": 1},
      "encoding": {
        "x": {"field": "t", "type": "temporal",
              "axis": {"orient": "bottom", "title": null, "labels": false, "tickSize": -2.5,
                       "values": [
                         {"year": 2024, "month": 4, "date": 24, "hours": 2, "utc": true},
                         {"year": 2024, "month": 4, "date": 24, "hours": 4, "utc": true},
                         {"year": 2024, "month": 4, "date": 24, "hours": 8, "utc": true},
                         {"year": 2024, "month": 4, "date": 24, "hours": 10, "utc": true},
                         {"year": 2024, "month": 4, "date": 24, "hours": 14, "utc": true},
                         {"year": 2024, "month": 4, "date": 24, "hours": 16, "utc": true},
                         {"year": 2024, "month": 4, "date": 24, "hours": 20, "utc": true},
                         {"year": 2024, "month": 4, "date": 24, "hours": 22, "utc": true},
                         {"year": 2024, "month": 4, "date": 25, "hours": 2, "utc": true},
                         {"year": 2024, "month": 4, "date": 25, "hours": 4, "utc": true},
                         {"year": 2024, "month": 4, "date": 25, "hours": 8, "utc": true},
                         {"year": 2024, "month": 4, "date": 25, "hours": 10, "utc": true},
                         {"year": 2024, "month": 4, "date": 25, "hours": 14, "utc": true},
                         {"year": 2024, "month": 4, "date": 25, "hours": 16, "utc": true},
                         {"year": 2024, "month": 4, "date": 25, "hours": 20, "utc": true},
                         {"year": 2024, "month": 4, "date": 25, "hours": 22, "utc": true},
                         {"year": 2024, "month": 4, "date": 26, "hours": 2, "utc": true},
                         {"year": 2024, "month": 4, "date": 26, "hours": 4, "utc": true},
                         {"year": 2024, "month": 4, "date": 26, "hours": 8, "utc": true},
                         {"year": 2024, "month": 4, "date": 26, "hours": 10, "utc": true},
                         {"year": 2024, "month": 4, "date": 26, "hours": 14, "utc": true},
                         {"year": 2024, "month": 4, "date": 26, "hours": 16, "utc": true},
                         {"year": 2024, "month": 4, "date": 26, "hours": 20, "utc": true},
                         {"year": 2024, "month": 4, "date": 26, "hours": 22, "utc": true}
                       ]}},
        "y": {"field": "v", "type": "quantitative", "axis": null}
      }
    }
  ],
  "resolve": {"axis": {"x": "independent", "y": "independent"}}
}
